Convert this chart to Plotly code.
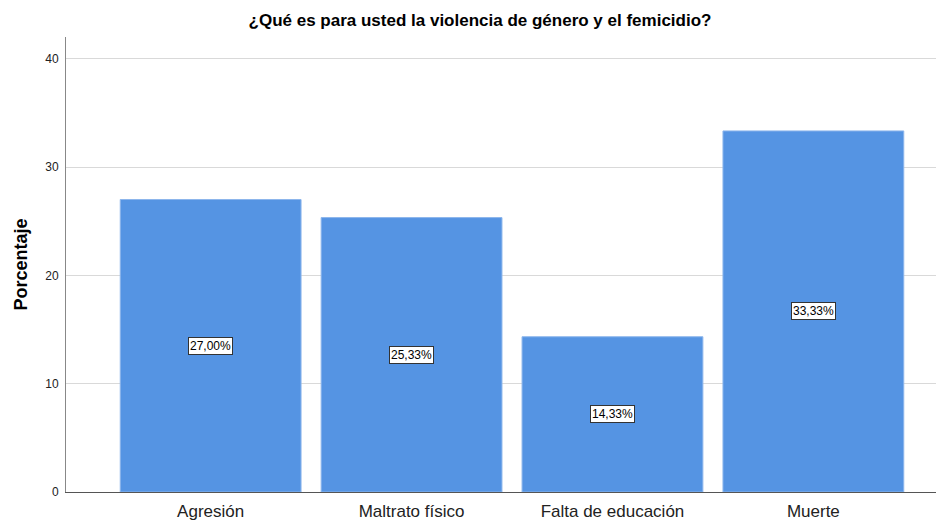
import plotly.graph_objects as go

# Data
categorias = ['Agresión', 'Maltrato físico', 'Falta de educación', 'Muerte']
porcentajes = [27.00, 25.33, 14.33, 33.33]
etiquetas = ['27,00%', '25,33%', '14,33%', '33,33%']

FONT = 'Arial, Liberation Sans'

bar = go.Bar(
    x=categorias, y=porcentajes, width=0.9,
    marker=dict(color='#5594E3', line=dict(color='#8DB6EC', width=1)),
    hoverinfo='skip'
)

fig = go.Figure(data=[bar])

# labels in the middle of each bar
for cat, val, lab in zip(categorias, porcentajes, etiquetas):
    fig.add_annotation(
        x=cat, y=val / 2, text=lab, showarrow=False,
        font=dict(family=FONT, size=12, color='black'),
        bgcolor='white', bordercolor='#333333', borderwidth=1, borderpad=1
    )

# page body has an 8px margin, so margins are shifted to compensate
fig.update_layout(
    width=944, height=520,
    margin=dict(l=58, r=0, t=29, b=36),
    paper_bgcolor='white', plot_bgcolor='white',
    title=dict(text='<b>¿Qué es para usted la violencia de género y el femicidio?</b>',
               x=0.5, xanchor='center', y=1 - 12 / 520, yanchor='middle',
               font=dict(family=FONT, size=17, color='black')),
    xaxis=dict(range=[-0.72, 3.69], showgrid=False, ticks='',
               showline=True, linecolor='#555555', linewidth=1,
               ticklabelstandoff=4,
               tickfont=dict(family=FONT, size=17, color='#222222')),
    yaxis=dict(range=[0, 42], tickvals=[0, 10, 20, 30, 40], showgrid=True,
               gridcolor='#D9D9D9', gridwidth=1, zeroline=False,
               showline=True, linecolor='#888888', linewidth=1, ticks='',
               ticklabelstandoff=4,
               tickfont=dict(family=FONT, size=12, color='#222222'),
               title=dict(text='<b>Porcentaje</b>', standoff=12,
                          font=dict(family=FONT, size=18, color='black'))),
    showlegend=False
)

fig.write_html('out.html')
